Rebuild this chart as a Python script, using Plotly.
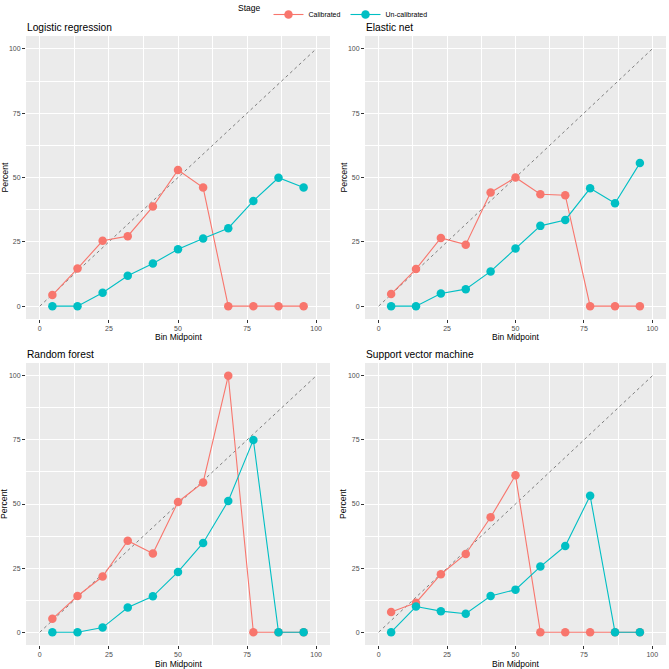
import plotly.graph_objects as go

bins = [4.545, 13.636, 22.727, 31.818, 40.909, 50.0, 59.091, 68.182, 77.273, 86.364, 95.455]
panels = ["Logistic regression", "Elastic net", "Random forest", "Support vector machine"]

lr_cal = [4.3, 14.6, 25.4, 27.2, 38.7, 52.9, 46.1, 0, 0, 0, 0]
lr_unc = [0, 0, 5.2, 11.8, 16.6, 22.1, 26.3, 30.3, 40.9, 49.9, 46.1]
en_cal = [4.7, 14.4, 26.5, 23.9, 44.2, 50.0, 43.5, 43.1, 0, 0, 0]
en_unc = [0, 0, 4.9, 6.6, 13.5, 22.4, 31.2, 33.5, 45.8, 40.0, 55.6]
rf_cal = [5.2, 14.1, 21.7, 35.7, 30.7, 50.8, 58.4, 100, 0, 0, 0]
rf_unc = [0, 0, 1.8, 9.6, 14.0, 23.5, 34.8, 51.2, 75.0, 0, 0]
svm_cal = [7.9, 11.5, 22.6, 30.5, 44.8, 61.2, 0, 0, 0, 0, 0]
svm_unc = [0, 10.0, 8.2, 7.2, 14.1, 16.6, 25.6, 33.6, 53.2, 0, 0]

cal_series = [lr_cal, en_cal, rf_cal, svm_cal]
unc_series = [lr_unc, en_unc, rf_unc, svm_unc]
diag = [0, 100]
ticks = [0, 25, 50, 75, 100]

COL_CAL = "#F8766D"
COL_UNC = "#00BFC4"
W = 669.0
FONT = "Liberation Sans, Arial"

# pixel boxes for panels: (left, right, top, bottom, x-title offset)
boxes = [(26, 330, 36, 319, 18), (365, 666, 36, 319, 18),
         (26, 330, 363, 645, 18.5), (365, 666, 363, 645, 18.5)]

fig = go.Figure()
for i, (name, cal, unc) in enumerate(zip(panels, cal_series, unc_series)):
    n = "" if i == 0 else str(i + 1)
    xa, ya = "x" + n, "y" + n
    fig.add_trace(go.Scatter(x=diag, y=diag, mode="lines", xaxis=xa, yaxis=ya,
                             line=dict(color="#7F7F7F", width=1, dash="3px,3px"),
                             showlegend=False, hoverinfo="skip"))
    fig.add_trace(go.Scatter(x=bins, y=cal, mode="lines+markers", name="Calibrated",
                             xaxis=xa, yaxis=ya, legendgroup="cal", showlegend=(i == 0),
                             line=dict(color=COL_CAL, width=1.1),
                             marker=dict(color=COL_CAL, size=8.5)))
    fig.add_trace(go.Scatter(x=bins, y=unc, mode="lines+markers", name="Un-calibrated",
                             xaxis=xa, yaxis=ya, legendgroup="unc", showlegend=(i == 0),
                             line=dict(color=COL_UNC, width=1.1),
                             marker=dict(color=COL_UNC, size=8.5)))
    l, r, t, b, off = boxes[i]
    axcommon = dict(range=[-5, 105], tickvals=ticks, showgrid=True, gridcolor="white",
                    gridwidth=1.1, zeroline=False, showline=False, ticks="outside",
                    ticklen=3, tickcolor="#333333", tickwidth=1,
                    tickfont=dict(family=FONT, size=7, color="#4D4D4D"),
                    minor=dict(tickvals=[12.5, 37.5, 62.5, 87.5], showgrid=True,
                               gridcolor="white", gridwidth=0.5, ticks=""),
                    automargin=False, fixedrange=True)
    fig.layout["xaxis" + n] = dict(domain=[l / W, r / W], anchor=ya, **axcommon)
    fig.layout["yaxis" + n] = dict(domain=[1 - b / W, 1 - t / W], anchor=xa, **axcommon)
    fig.add_annotation(text=name, x=(l - 1) / W, y=1 - (t - 9) / W, xref="paper", yref="paper",
                       xanchor="left", yanchor="middle", showarrow=False,
                       font=dict(family=FONT, size=10.2, color="black"))
    fig.add_annotation(text="Bin Midpoint", x=(l + r) / 2 / W, y=1 - (b + off) / W,
                       xref="paper", yref="paper", xanchor="center", yanchor="middle",
                       showarrow=False,
                       font=dict(family=FONT, size=8.5, color="black"))
    fig.add_annotation(text="Percent", x=(l - 22) / W, y=1 - (t + b) / 2 / W,
                       xref="paper", yref="paper", xanchor="center", yanchor="middle",
                       textangle=-90, showarrow=False,
                       font=dict(family=FONT, size=8.7, color="black"))

fig.update_layout(
    width=669, height=669,
    margin=dict(l=0, r=0, t=0, b=0),
    paper_bgcolor="white", plot_bgcolor="#EBEBEB",
    showlegend=True,
    legend=dict(orientation="h", x=0.5, xanchor="center", y=1.0, yanchor="top",
                title=dict(text="Stage", font=dict(family=FONT, size=8.5)),
                font=dict(family=FONT, size=7, color="black"),
                itemwidth=30, tracegroupgap=0, bgcolor="rgba(0,0,0,0)"),
    font=dict(family=FONT),
)

fig.write_html("out.html", config={"displayModeBar": False},
               post_script="document.body.style.margin='0';document.body.style.overflow='hidden';")
